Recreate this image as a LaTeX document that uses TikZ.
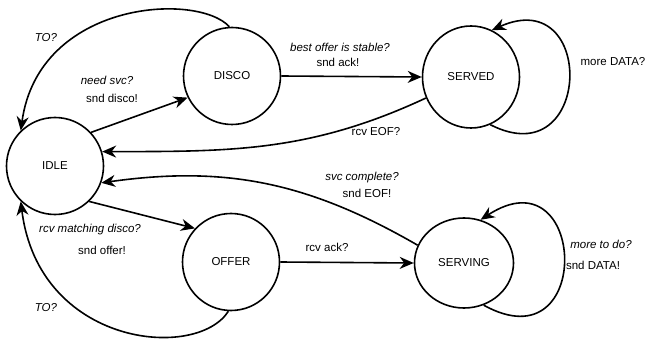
\documentclass[tikz,border=0pt]{standalone}
\usepackage{fontspec}
\setmainfont{Liberation Sans}
\usepackage{tikz}
\usetikzlibrary{arrows.meta,positioning,shapes.geometric}

\begin{document}
\begin{tikzpicture}[
    x=1pt, y=-1pt,
    state/.style={draw, ellipse, minimum width=97pt, minimum height=97pt, inner sep=0pt,
                  line width=1.6pt, font=\fontsize{11.5}{13}\selectfont},
    arrow/.style={-{Stealth[length=14pt, width=12pt, inset=4.5pt]}, line width=1.6pt},
    elabel/.style={font=\fontsize{11.5}{13}\selectfont\itshape, inner sep=1pt},
    plabel/.style={font=\fontsize{11.5}{13}\selectfont, inner sep=1pt},
]
\useasboundingbox (0,0) rectangle (651,342);

% ── States ──
\node[state] (idle) at (55,166) {IDLE};
\node[state] (disco) at (232,76) {DISCO};
\node[state, minimum height=102pt] (served) at (471,77) {SERVED};
\node[state] (offer) at (231,262) {OFFER};
\node[state, minimum width=99pt, minimum height=90pt] (serving) at (464,263) {SERVING};

% ── Straight transitions ──
\draw[arrow] (idle.43) -- (disco.206);
\draw[arrow] (disco.east) -- (served.west);
\draw[arrow] (idle.-46) -- (offer.137);
\draw[arrow] (offer.east) -- (serving.west);

% ── Curved transitions back to IDLE ──
\draw[arrow] (served.205) to[out=205, in=0] (idle.17);
\draw[arrow] (serving.159) to[out=150, in=8] (idle.-20);
\draw[arrow] (disco.93) .. controls +(-32,-35) and +(18,-130) .. (idle.134);
\draw[arrow] (offer.-93) .. controls +(-32,50) and +(18,145) .. (idle.-134);

% ── Self loops ──
\draw[arrow] (served.-68) to[out=-27, in=24, looseness=3.1] (served.66);
\draw[arrow] (serving.-65) to[out=-29, in=33, looseness=3.8] (serving.69);

% ── Edge labels ──
\node[elabel] (to1) at (46,38) {TO?};
\node[elabel] (need) at (107,80) {need svc?};
\node[plabel] (sdisco) at (112,98) {snd disco!};
\node[elabel] (stable) at (340,47) {best offer is stable?};
\node[plabel] (sack) at (338,62) {snd ack!};
\node[plabel] (mdata) at (613,62) {more DATA?};
\node[plabel] (reof) at (376,132) {rcv EOF?};
\node[elabel] (svc) at (362,178) {svc complete?};
\node[plabel] (seof) at (367,193) {snd EOF!};
\node[elabel] (match) at (90,230) {rcv matching disco?};
\node[plabel] (soffer) at (102,250) {snd offer!};
\node[plabel] (rack) at (327,247) {rcv ack?};
\node[elabel] (todo) at (601,244) {more to do?};
\node[plabel] (sdata) at (593,265) {snd DATA!};
\node[elabel] (to2) at (46,308) {TO?};

\end{tikzpicture}
\end{document}
